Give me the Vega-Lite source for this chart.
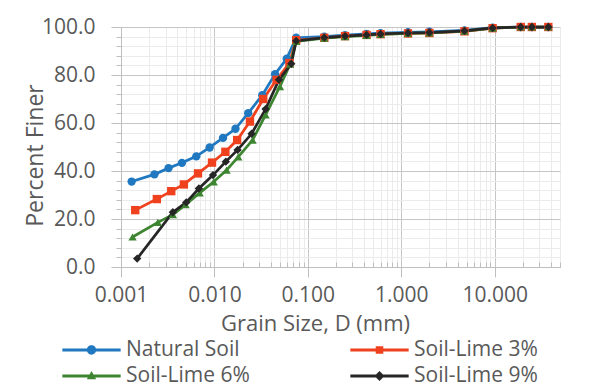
{
  "$schema": "https://vega.github.io/schema/vega-lite/v6.json",
  "width": 439,
  "height": 240,
  "autosize": {"type": "none"},
  "padding": {"left": 121, "top": 27, "right": 41, "bottom": 120},
  "background": "white",
  "config": {
    "font": "Open Sans",
    "view": {"stroke": null},
    "axis": {
      "labelFont": "Open Sans",
      "titleFont": "Open Sans",
      "labelColor": "#595959",
      "titleColor": "#595959",
      "labelFontSize": 21,
      "titleFontSize": 21,
      "titleFontWeight": "normal",
      "domainColor": "#bfbfbf",
      "tickColor": "#bfbfbf",
      "gridWidth": 1
    },
    "legend": {
      "orient": "none",
      "direction": "horizontal",
      "legendX": -59,
      "legendY": 313,
      "columns": 2,
      "columnPadding": 100,
      "rowPadding": 5,
      "clipHeight": 20,
      "symbolSize": 3400,
      "symbolStrokeWidth": 0,
      "labelFont": "Open Sans",
      "labelFontSize": 21,
      "labelColor": "#595959",
      "labelOffset": 5,
      "labelLimit": 300,
      "padding": 0
    }
  },
  "data": {
    "values": [
      {"series": "Natural Soil", "d": 0.0013, "p": 35.6},
      {"series": "Natural Soil", "d": 0.00228, "p": 38.6},
      {"series": "Natural Soil", "d": 0.00323, "p": 41.2},
      {"series": "Natural Soil", "d": 0.00449, "p": 43.4},
      {"series": "Natural Soil", "d": 0.0064, "p": 46.1},
      {"series": "Natural Soil", "d": 0.00889, "p": 49.8},
      {"series": "Natural Soil", "d": 0.01236, "p": 53.8},
      {"series": "Natural Soil", "d": 0.0168, "p": 57.6},
      {"series": "Natural Soil", "d": 0.023, "p": 64.1},
      {"series": "Natural Soil", "d": 0.0325, "p": 71.6},
      {"series": "Natural Soil", "d": 0.0445, "p": 80.3},
      {"series": "Natural Soil", "d": 0.0594, "p": 86.8},
      {"series": "Natural Soil", "d": 0.075, "p": 95.5},
      {"series": "Natural Soil", "d": 0.15, "p": 96.0},
      {"series": "Natural Soil", "d": 0.25, "p": 96.6},
      {"series": "Natural Soil", "d": 0.425, "p": 97.1},
      {"series": "Natural Soil", "d": 0.6, "p": 97.4},
      {"series": "Natural Soil", "d": 1.18, "p": 97.8},
      {"series": "Natural Soil", "d": 2.0, "p": 98.0},
      {"series": "Natural Soil", "d": 4.75, "p": 98.6},
      {"series": "Natural Soil", "d": 9.5, "p": 99.7},
      {"series": "Natural Soil", "d": 19, "p": 100},
      {"series": "Natural Soil", "d": 25, "p": 100},
      {"series": "Natural Soil", "d": 37.5, "p": 100},
      {"series": "Soil-Lime 3%", "d": 0.00142, "p": 23.7},
      {"series": "Soil-Lime 3%", "d": 0.00242, "p": 28.3},
      {"series": "Soil-Lime 3%", "d": 0.00345, "p": 31.6},
      {"series": "Soil-Lime 3%", "d": 0.00471, "p": 34.4},
      {"series": "Soil-Lime 3%", "d": 0.00667, "p": 39.0},
      {"series": "Soil-Lime 3%", "d": 0.00942, "p": 43.5},
      {"series": "Soil-Lime 3%", "d": 0.0131, "p": 48.0},
      {"series": "Soil-Lime 3%", "d": 0.0175, "p": 52.9},
      {"series": "Soil-Lime 3%", "d": 0.024, "p": 60.6},
      {"series": "Soil-Lime 3%", "d": 0.0333, "p": 70.0},
      {"series": "Soil-Lime 3%", "d": 0.0463, "p": 78.0},
      {"series": "Soil-Lime 3%", "d": 0.0634, "p": 85.0},
      {"series": "Soil-Lime 3%", "d": 0.075, "p": 94.5},
      {"series": "Soil-Lime 3%", "d": 0.15, "p": 95.5},
      {"series": "Soil-Lime 3%", "d": 0.25, "p": 96.2},
      {"series": "Soil-Lime 3%", "d": 0.425, "p": 96.7},
      {"series": "Soil-Lime 3%", "d": 0.6, "p": 97.0},
      {"series": "Soil-Lime 3%", "d": 1.18, "p": 97.3},
      {"series": "Soil-Lime 3%", "d": 2.0, "p": 97.5},
      {"series": "Soil-Lime 3%", "d": 4.75, "p": 98.2},
      {"series": "Soil-Lime 3%", "d": 9.5, "p": 99.5},
      {"series": "Soil-Lime 3%", "d": 19, "p": 100},
      {"series": "Soil-Lime 3%", "d": 25, "p": 100},
      {"series": "Soil-Lime 3%", "d": 37.5, "p": 100},
      {"series": "Soil-Lime 6%", "d": 0.00133, "p": 12.5},
      {"series": "Soil-Lime 6%", "d": 0.00248, "p": 18.6},
      {"series": "Soil-Lime 6%", "d": 0.00359, "p": 21.8},
      {"series": "Soil-Lime 6%", "d": 0.00491, "p": 26.0},
      {"series": "Soil-Lime 6%", "d": 0.00695, "p": 30.9},
      {"series": "Soil-Lime 6%", "d": 0.00982, "p": 35.5},
      {"series": "Soil-Lime 6%", "d": 0.0135, "p": 40.4},
      {"series": "Soil-Lime 6%", "d": 0.018, "p": 45.9},
      {"series": "Soil-Lime 6%", "d": 0.0256, "p": 52.9},
      {"series": "Soil-Lime 6%", "d": 0.0353, "p": 63.4},
      {"series": "Soil-Lime 6%", "d": 0.0503, "p": 75.2},
      {"series": "Soil-Lime 6%", "d": 0.0645, "p": 84.5},
      {"series": "Soil-Lime 6%", "d": 0.075, "p": 94.0},
      {"series": "Soil-Lime 6%", "d": 0.15, "p": 95.4},
      {"series": "Soil-Lime 6%", "d": 0.25, "p": 96.0},
      {"series": "Soil-Lime 6%", "d": 0.425, "p": 96.5},
      {"series": "Soil-Lime 6%", "d": 0.6, "p": 96.9},
      {"series": "Soil-Lime 6%", "d": 1.18, "p": 97.3},
      {"series": "Soil-Lime 6%", "d": 2.0, "p": 97.6},
      {"series": "Soil-Lime 6%", "d": 4.75, "p": 98.3},
      {"series": "Soil-Lime 6%", "d": 9.5, "p": 99.5},
      {"series": "Soil-Lime 6%", "d": 19, "p": 100},
      {"series": "Soil-Lime 6%", "d": 25, "p": 100},
      {"series": "Soil-Lime 6%", "d": 37.5, "p": 100},
      {"series": "Soil-Lime 9%", "d": 0.00149, "p": 3.5},
      {"series": "Soil-Lime 9%", "d": 0.00359, "p": 22.8},
      {"series": "Soil-Lime 9%", "d": 0.00499, "p": 26.9},
      {"series": "Soil-Lime 9%", "d": 0.00682, "p": 32.7},
      {"series": "Soil-Lime 9%", "d": 0.00966, "p": 38.3},
      {"series": "Soil-Lime 9%", "d": 0.01324, "p": 43.9},
      {"series": "Soil-Lime 9%", "d": 0.0177, "p": 48.8},
      {"series": "Soil-Lime 9%", "d": 0.025, "p": 55.5},
      {"series": "Soil-Lime 9%", "d": 0.0353, "p": 65.8},
      {"series": "Soil-Lime 9%", "d": 0.0491, "p": 78.0},
      {"series": "Soil-Lime 9%", "d": 0.0665, "p": 84.7},
      {"series": "Soil-Lime 9%", "d": 0.075, "p": 94.2},
      {"series": "Soil-Lime 9%", "d": 0.15, "p": 95.6},
      {"series": "Soil-Lime 9%", "d": 0.25, "p": 96.2},
      {"series": "Soil-Lime 9%", "d": 0.425, "p": 96.7},
      {"series": "Soil-Lime 9%", "d": 0.6, "p": 97.1},
      {"series": "Soil-Lime 9%", "d": 1.18, "p": 97.5},
      {"series": "Soil-Lime 9%", "d": 2.0, "p": 97.7},
      {"series": "Soil-Lime 9%", "d": 4.75, "p": 98.4},
      {"series": "Soil-Lime 9%", "d": 9.5, "p": 99.6},
      {"series": "Soil-Lime 9%", "d": 19, "p": 100},
      {"series": "Soil-Lime 9%", "d": 25, "p": 100},
      {"series": "Soil-Lime 9%", "d": 37.5, "p": 100}
    ]
  },
  "resolve": {
    "scale": {"x": "shared", "y": "shared", "color": "shared"},
    "axis": {"x": "independent", "y": "independent"}
  },
  "layer": [
    {
      "mark": {"type": "line", "strokeWidth": 2.75},
      "encoding": {
        "x": {
          "field": "d",
          "type": "quantitative",
          "scale": {"type": "log", "domain": [0.001, 50], "nice": false},
          "axis": {
            "orient": "bottom",
            "values": [0.002, 0.003, 0.004, 0.005, 0.006, 0.007, 0.008, 0.009, 0.02, 0.03, 0.04, 0.05, 0.06, 0.07, 0.08, 0.09, 0.2, 0.3, 0.4, 0.5, 0.6, 0.7, 0.8, 0.9, 2, 3, 4, 5, 6, 7, 8, 9, 20, 30, 40, 50],
            "grid": true,
            "gridColor": "#ebebeb",
            "tickSize": -5,
            "labels": false,
            "domain": false,
            "title": null
          }
        },
        "y": {
          "field": "p",
          "type": "quantitative",
          "scale": {"domain": [0, 100], "nice": false},
          "axis": {
            "orient": "left",
            "values": [4, 8, 12, 16, 24, 28, 32, 36, 44, 48, 52, 56, 64, 68, 72, 76, 84, 88, 92, 96],
            "grid": true,
            "gridColor": "#ebebeb",
            "tickSize": 5,
            "labels": false,
            "domain": false,
            "title": null
          }
        },
        "color": {
          "field": "series",
          "type": "nominal",
          "scale": {
            "domain": ["Natural Soil", "Soil-Lime 3%", "Soil-Lime 6%", "Soil-Lime 9%"],
            "range": ["#2079c0", "#f0411e", "#3d8530", "#262626"]
          },
          "legend": {
            "title": null,
            "encode": {
              "symbols": {
                "update": {
                  "fill": {"signal": "scale('color', datum.value)"},
                  "stroke": {"value": "transparent"},
                  "strokeWidth": {"value": 0},
                  "opacity": {"value": 1},
                  "shape": {"signal": "datum.value === 'Natural Soil' ? 'M-1,-0.05H1V0.05H-1Z M0.16,0A0.16,0.16 0 1,1 -0.16,0A0.16,0.16 0 1,1 0.16,0Z' : datum.value === 'Soil-Lime 3%' ? 'M-1,-0.05H1V0.05H-1Z M-0.13,-0.13H0.13V0.13H-0.13Z' : datum.value === 'Soil-Lime 6%' ? 'M-1,-0.05H1V0.05H-1Z M0.16,0.11L-0.16,0.11L0,-0.17Z' : 'M-1,-0.05H1V0.05H-1Z M0,-0.17L0.17,0L0,0.17L-0.17,0Z'"}
                }
              }
            }
          }
        }
      }
    },
    {
      "mark": {
        "type": "point",
        "filled": true,
        "size": 70,
        "opacity": 1,
        "shape": {"expr": "datum.series === 'Natural Soil' ? 'circle' : datum.series === 'Soil-Lime 3%' ? 'square' : datum.series === 'Soil-Lime 6%' ? 'triangle-up' : 'diamond'"}
      },
      "encoding": {
        "x": {
          "field": "d",
          "type": "quantitative",
          "axis": {
            "orient": "bottom",
            "values": [0.001, 0.01, 0.1, 1, 10],
            "grid": true,
            "gridColor": "#c6c6c6",
            "tickSize": 10,
            "format": ".3f",
            "labelOverlap": false,
            "labelFlush": false,
            "labelBound": false,
            "labelBaseline": "alphabetic",
            "labelPadding": 24,
            "title": "Grain Size, D (mm)",
            "titleFontSize": 22,
            "titleX": 194,
            "titleY": 63,
            "titleBaseline": "alphabetic",
            "titleAlign": "center"
          }
        },
        "y": {
          "field": "p",
          "type": "quantitative",
          "axis": {
            "orient": "left",
            "values": [0, 20, 40, 60, 80, 100],
            "grid": true,
            "gridColor": "#c6c6c6",
            "tickSize": 10,
            "format": ".1f",
            "labelOverlap": false,
            "labelFlush": false,
            "labelBound": false,
            "labelPadding": 16,
            "title": "Percent Finer",
            "titleFontSize": 23,
            "titleX": -79,
            "titleY": 128,
            "titleAngle": -90,
            "titleBaseline": "alphabetic",
            "titleAlign": "center"
          }
        },
        "color": {"field": "series", "type": "nominal", "legend": null}
      }
    }
  ]
}
